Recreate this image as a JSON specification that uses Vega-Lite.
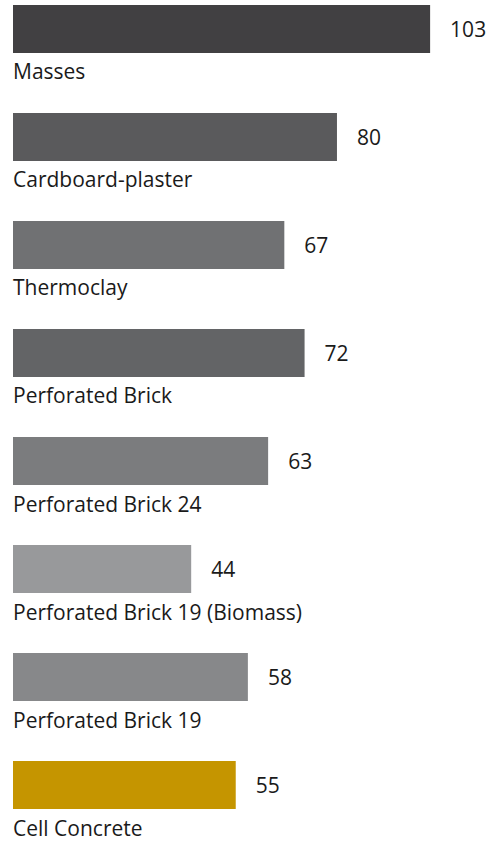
{
  "$schema": "https://vega.github.io/schema/vega-lite/v6.json",
  "width": 473,
  "height": 814,
  "autosize": {"type": "none"},
  "padding": {"left": 13, "top": 0, "right": 0, "bottom": 27},
  "background": "white",
  "config": {"view": {"stroke": null}},
  "data": {
    "values": [
      {"material": "Masses", "value": 103, "color": "#414042"},
      {"material": "Cardboard-plaster", "value": 80, "color": "#5a5a5c"},
      {"material": "Thermoclay", "value": 67, "color": "#707173"},
      {"material": "Perforated Brick", "value": 72, "color": "#636466"},
      {"material": "Perforated Brick 24", "value": 63, "color": "#7b7c7e"},
      {"material": "Perforated Brick 19 (Biomass)", "value": 44, "color": "#98999b"},
      {"material": "Perforated Brick 19", "value": 58, "color": "#87888a"},
      {"material": "Cell Concrete", "value": 55, "color": "#c59500"}
    ]
  },
  "encoding": {
    "y": {
      "field": "material",
      "type": "nominal",
      "sort": null,
      "axis": null,
      "scale": {"paddingInner": 0.5556, "paddingOuter": 0.0463}
    }
  },
  "layer": [
    {
      "mark": {"type": "bar"},
      "encoding": {
        "x": {"field": "value", "type": "quantitative", "axis": null, "scale": {"domain": [0, 116.8], "nice": false}},
        "color": {"field": "color", "type": "nominal", "scale": null, "legend": null}
      }
    },
    {
      "mark": {"type": "text", "align": "left", "baseline": "alphabetic", "dx": 20, "dy": 8, "font": "Open Sans", "fontSize": 21, "color": "#1a1a1a"},
      "encoding": {
        "x": {"field": "value", "type": "quantitative"},
        "text": {"field": "value", "type": "quantitative"}
      }
    },
    {
      "mark": {"type": "text", "align": "left", "baseline": "alphabetic", "dy": 50.5, "x": 0, "font": "Open Sans", "fontSize": 21, "color": "#1a1a1a"},
      "encoding": {
        "text": {"field": "material", "type": "nominal"}
      }
    }
  ]
}
